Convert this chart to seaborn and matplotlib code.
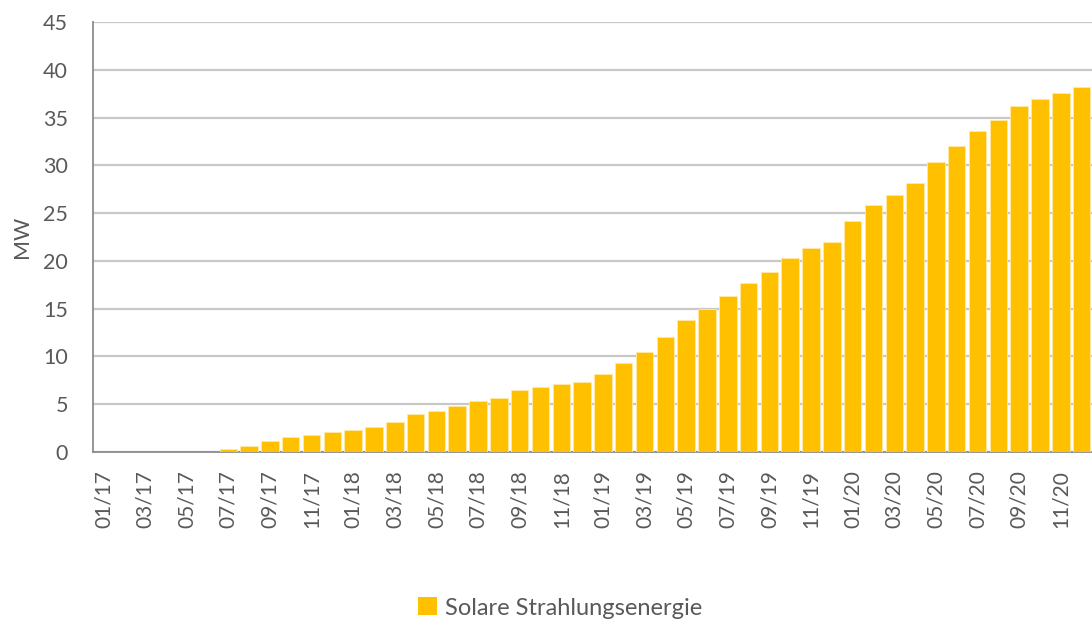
import numpy as np
import pandas as pd
import matplotlib
matplotlib.use('Agg')
import matplotlib.pyplot as plt
from matplotlib.patches import Patch
import seaborn as sns

# monthly values, 01/17 .. 12/20
months = [f'{m:02d}/{y}' for y in (17, 18, 19, 20) for m in range(1, 13)]
mw = [0, 0, 0, 0, 0, 0, 0.28, 0.63, 1.1, 1.6, 1.78, 2.1,
      2.3, 2.6, 3.14, 3.97, 4.3, 4.8, 5.3, 5.65, 6.5, 6.85, 7.15, 7.3,
      8.15, 9.3, 10.5, 12.0, 13.8, 15.0, 16.3, 17.7, 18.8, 20.35, 21.35, 22.0,
      24.2, 25.9, 26.85, 28.2, 30.35, 32.0, 33.55, 34.7, 36.2, 36.9, 37.55, 38.2]
series_name = 'Solare Strahlungsenergie'
yticks = list(range(0, 50, 5))

df = pd.DataFrame({'month': months, 'MW': mw})

sns.set_style('white')
plt.rcParams['font.family'] = ['Lato', 'DejaVu Sans']
text_col = '#595959'
bar_col = '#FFC000'

fig = plt.figure(figsize=(10.92, 6.22), dpi=100)
ax = fig.add_axes([93 / 1092, 170 / 622, 1 - 93 / 1092, 430 / 622])

sns.barplot(data=df, x='month', y='MW', color=bar_col, saturation=1,
            width=0.84, edgecolor='#FFE9A8', linewidth=0.6, ax=ax, zorder=3)

ax.set_xlim(-0.5, len(months) - 0.5)
ax.set_ylim(0, 45)
ax.set_yticks(yticks)
ax.set_yticklabels([str(v) for v in yticks])
ax.yaxis.grid(True, color='#C8C8C8', linewidth=1.6, zorder=0)
ax.set_axisbelow(True)

# tick marks at category boundaries, labels on every second month
ax.set_xticks(np.arange(-0.5, len(months) - 0.5, 2))
ax.set_xticklabels([])
ax.set_xticks(np.arange(0, len(months), 2), minor=True)
ax.set_xticklabels(months[::2], minor=True, rotation=90)
ax.tick_params(axis='x', which='major', length=7, width=1.2, color='#8C8C8C', direction='out')
ax.tick_params(axis='x', which='minor', length=0, pad=13, labelsize=15, labelcolor=text_col)
ax.tick_params(axis='y', length=6, width=1.2, color='#8C8C8C', direction='out',
               labelsize=15.5, labelcolor=text_col, pad=12)

for s in ['top', 'right']:
    ax.spines[s].set_visible(False)
for s in ['left', 'bottom']:
    ax.spines[s].set_color('#8C8C8C')
    ax.spines[s].set_linewidth(1.3)

ax.set_xlabel('')
ax.set_ylabel('MW', fontsize=15.5, color=text_col, labelpad=8)

handles = [Patch(facecolor=bar_col, edgecolor='none', label=series_name)]
fig.legend(handles=handles, loc='center', bbox_to_anchor=(560 / 1092, 1 - 608 / 622),
           frameon=False, fontsize=17, labelcolor=text_col,
           handlelength=0.8, handleheight=0.8, handletextpad=0.35)

fig.savefig('out.png', dpi=100)
